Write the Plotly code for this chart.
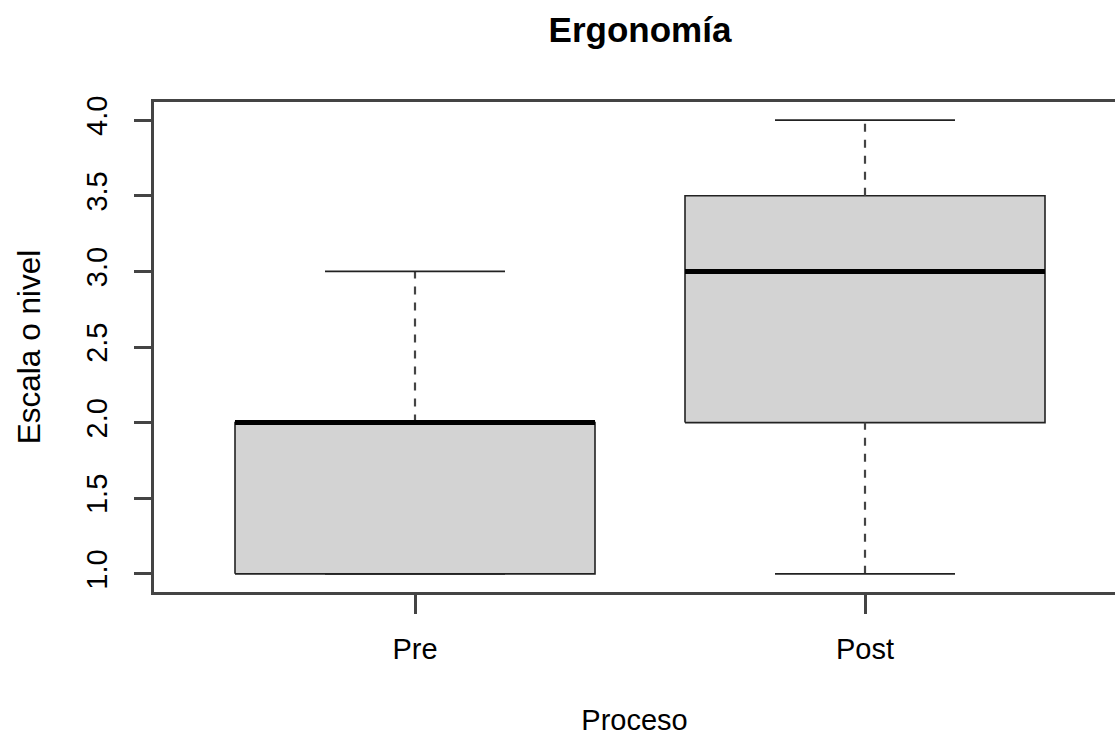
import plotly.graph_objects as go

# ---- data ----
categorias = ["Pre", "Post"]
minimo = [1.0, 1.0]
q1 = [1.0, 2.0]
mediana = [2.0, 3.0]
q3 = [2.0, 3.5]
maximo = [3.0, 4.0]
y_ticks = [1.0, 1.5, 2.0, 2.5, 3.0, 3.5, 4.0]
y_tick_labels = ["1.0", "1.5", "2.0", "2.5", "3.0", "3.5", "4.0"]

posiciones = [i + 1 for i in range(len(categorias))]
medio_ancho = 0.4      # boxwex 0.8 / 2
medio_tope = 0.2       # staple half width

FONT = "Liberation Sans, Arial, Helvetica, sans-serif"
LINE = "#222222"
FS = 29

fig = go.Figure()

# boxes (fill + border)
for p, a, b in zip(posiciones, q1, q3):
    fig.add_trace(go.Scatter(
        x=[p - medio_ancho, p + medio_ancho, p + medio_ancho, p - medio_ancho, p - medio_ancho],
        y=[a, a, b, b, a],
        mode="lines", fill="toself", fillcolor="#D3D3D3",
        line=dict(color=LINE, width=1.6), hoverinfo="skip", showlegend=False))

# whiskers (dashed)
wx, wy = [], []
for p, lo, a, b, hi in zip(posiciones, minimo, q1, q3, maximo):
    wx += [p, p, None, p, p, None]
    wy += [lo, a, None, b, hi, None]
fig.add_trace(go.Scatter(x=wx, y=wy, mode="lines",
                         line=dict(color="#444444", width=2.2, dash="8px,8px"),
                         hoverinfo="skip", showlegend=False))

# staples
sx, sy = [], []
for p, lo, hi in zip(posiciones, minimo, maximo):
    sx += [p - medio_tope, p + medio_tope, None, p - medio_tope, p + medio_tope, None]
    sy += [lo, lo, None, hi, hi, None]
fig.add_trace(go.Scatter(x=sx, y=sy, mode="lines",
                         line=dict(color=LINE, width=1.8),
                         hoverinfo="skip", showlegend=False))

# medians
mx, my = [], []
for p, m in zip(posiciones, mediana):
    mx += [p - medio_ancho, p + medio_ancho, None]
    my += [m, m, None]
fig.add_trace(go.Scatter(x=mx, y=my, mode="lines",
                         line=dict(color="black", width=5),
                         hoverinfo="skip", showlegend=False))

fig.update_layout(
    width=1115, height=737,
    margin=dict(l=154, r=0, t=102, b=145),
    paper_bgcolor="white", plot_bgcolor="white",
    font=dict(family=FONT, size=FS, color="black"),
    title=dict(text="<b>Ergonomía</b>", xref="container", yref="container",
               x=640 / 1115, xanchor="center", y=1 - 30 / 737, yanchor="middle",
               font=dict(family=FONT, size=35, color="black")),
    xaxis=dict(range=[0.42, 2.58 - 11 / 450], tickvals=posiciones, ticktext=categorias,
               showgrid=False, zeroline=False, showline=True, mirror=True,
               linecolor="#444444", linewidth=2.5, ticks="outside", ticklen=19,
               tickcolor="#444444", tickwidth=2.5, ticklabelstandoff=10,
               tickfont=dict(family=FONT, size=FS, color="black"),
               title=dict(text="Proceso", standoff=47,
                          font=dict(family=FONT, size=FS, color="black"))),
    yaxis=dict(range=[0.88, 4.12], tickvals=y_ticks, ticktext=y_tick_labels,
               tickangle=-90, showgrid=False, zeroline=False, showline=True,
               linecolor="#444444", linewidth=2.5, ticks="outside", ticklen=17,
               tickcolor="#444444", tickwidth=2.5, ticklabelstandoff=16,
               tickfont=dict(family=FONT, size=FS, color="black"),
               title=dict(text="Escala o nivel", standoff=31,
                          font=dict(family=FONT, size=31.5, color="black"))),
)

fig.write_html("out.html")
